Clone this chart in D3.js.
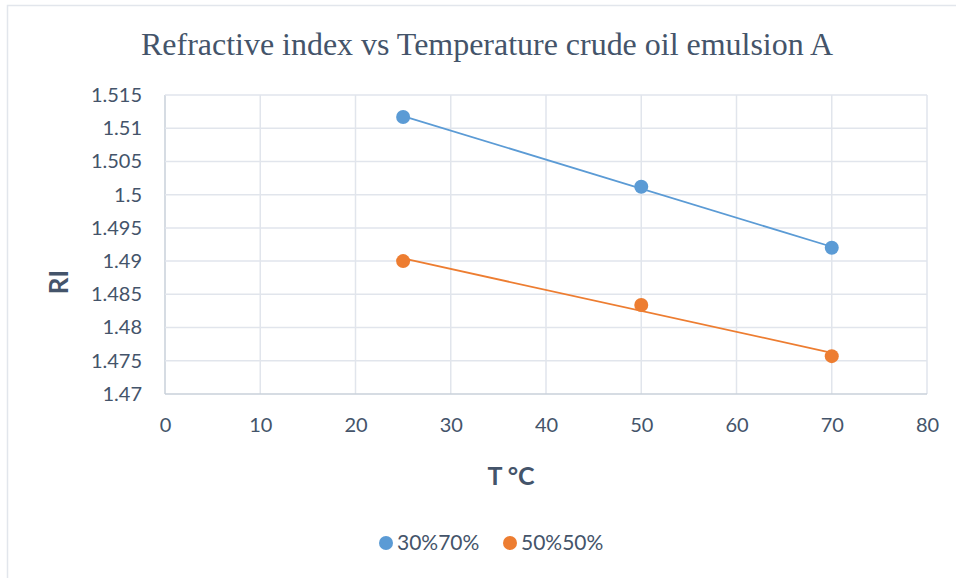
<!DOCTYPE html>
<html>
<head>
<meta charset="utf-8">
<script src="https://cdn.jsdelivr.net/npm/d3@7"></script>
<style>
  html, body { margin: 0; padding: 0; background: #fff; }
  svg { display: block; }
</style>
</head>
<body>
<svg id="chart" width="956" height="578"></svg>
<script>
// Temperature (°C) readings
const temperatures = [25, 50, 70];
// Refractive index for each emulsion ratio
const ri3070 = [1.5117, 1.5012, 1.4920];
const ri5050 = [1.4900, 1.4834, 1.4757];
const seriesNames = ["30%70%", "50%50%"];
const seriesColors = ["#5B9BD5", "#ED7D31"];
const xTicks = [0, 10, 20, 30, 40, 50, 60, 70, 80];
const yTicks = [1.47, 1.475, 1.48, 1.485, 1.49, 1.495, 1.5, 1.505, 1.51, 1.515];

const series = [ri3070, ri5050].map((vals, i) => ({
  name: seriesNames[i],
  color: seriesColors[i],
  points: temperatures.map((t, j) => ({ x: t, y: vals[j] }))
}));

const svg = d3.select("#chart");
const W = 956, H = 578;
const textColor = "#44546A";
const gridColor = "#E1E5EC";
const axisColor = "#C9D0DA";
const font = "Lato, 'Open Sans', sans-serif";

// outer chart frame
svg.append("rect")
  .attr("x", 7.5).attr("y", 5.5)
  .attr("width", W + 10).attr("height", H + 10)
  .attr("fill", "#fff").attr("stroke", "#E2E6EC").attr("stroke-width", 1.5);

const plot = { left: 165, right: 927, top: 95, bottom: 394 };

const x = d3.scaleLinear().domain([0, 80]).range([plot.left, plot.right]);
const y = d3.scaleLinear().domain([1.47, 1.515]).range([plot.bottom, plot.top]);

// gridlines
const grid = svg.append("g");
grid.selectAll("line.v").data(xTicks).join("line")
  .attr("x1", d => x(d)).attr("x2", d => x(d))
  .attr("y1", plot.top).attr("y2", plot.bottom)
  .attr("stroke", d => d === 0 ? axisColor : gridColor).attr("stroke-width", 1.5);
grid.selectAll("line.h").data(yTicks).join("line")
  .attr("x1", plot.left).attr("x2", plot.right)
  .attr("y1", d => y(d)).attr("y2", d => y(d))
  .attr("stroke", d => d === 1.47 ? axisColor : gridColor).attr("stroke-width", 1.5);

// axes (labels only)
const xAxis = svg.append("g")
  .attr("transform", `translate(0,${plot.bottom})`)
  .call(d3.axisBottom(x).tickValues(xTicks).tickSize(0).tickPadding(24).tickFormat(d3.format("d")));
const yAxis = svg.append("g")
  .attr("transform", `translate(${plot.left},0)`)
  .call(d3.axisLeft(y).tickValues(yTicks).tickSize(0).tickPadding(23).tickFormat(d => String(+d.toFixed(3))));
[xAxis, yAxis].forEach(g => {
  g.select(".domain").remove();
  g.selectAll("text").attr("fill", textColor).style("font-family", font).style("font-size", "20px");
});

// linear trendlines through each series
function fit(pts) {
  const mx = d3.mean(pts, p => p.x), my = d3.mean(pts, p => p.y);
  const sxy = d3.sum(pts, p => (p.x - mx) * (p.y - my));
  const sxx = d3.sum(pts, p => (p.x - mx) ** 2);
  const b = sxy / sxx, a = my - b * mx;
  return t => a + b * t;
}
series.forEach(s => {
  const f = fit(s.points);
  const x0 = d3.min(s.points, p => p.x), x1 = d3.max(s.points, p => p.x);
  svg.append("line")
    .attr("x1", x(x0)).attr("y1", y(f(x0)))
    .attr("x2", x(x1)).attr("y2", y(f(x1)))
    .attr("stroke", s.color).attr("stroke-width", 1.75);
});

// markers
series.forEach(s => {
  svg.append("g").selectAll("circle").data(s.points).join("circle")
    .attr("cx", d => x(d.x)).attr("cy", d => y(d.y)).attr("r", 7)
    .attr("fill", s.color);
});

// title
svg.append("text")
  .attr("x", 487).attr("y", 55)
  .attr("text-anchor", "middle")
  .attr("fill", textColor)
  .style("font-family", "'Liberation Serif', 'Times New Roman', serif")
  .style("font-size", "31px")
  .attr("textLength", 692).attr("lengthAdjust", "spacingAndGlyphs")
  .text("Refractive index vs Temperature crude oil emulsion A");

// axis titles
svg.append("text")
  .attr("x", 511).attr("y", 485)
  .attr("text-anchor", "middle")
  .attr("fill", textColor)
  .style("font-family", font).style("font-size", "25px").style("font-weight", "bold")
  .text("T °C");
svg.append("text")
  .attr("transform", "translate(68,282) rotate(-90)")
  .attr("text-anchor", "middle")
  .attr("fill", textColor)
  .style("font-family", font).style("font-size", "26px").style("font-weight", "bold")
  .text("RI");

// legend
const legendX = [386, 510];
const legend = svg.append("g");
series.forEach((s, i) => {
  legend.append("circle").attr("cx", legendX[i]).attr("cy", 543).attr("r", 7).attr("fill", s.color);
  legend.append("text")
    .attr("x", legendX[i] + 11).attr("y", 550)
    .attr("fill", textColor)
    .style("font-family", font).style("font-size", "21px")
    .text(s.name);
});
</script>
</body>
</html>
